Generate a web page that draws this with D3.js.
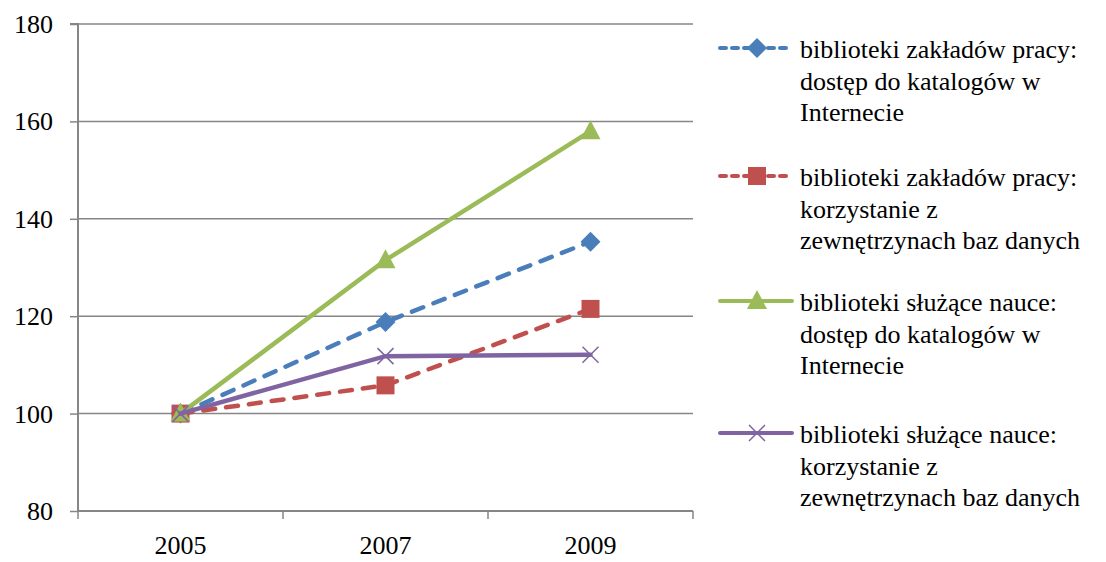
<!DOCTYPE html>
<html><head><meta charset="utf-8">
<script src="https://cdn.jsdelivr.net/npm/d3@7"></script>
<style>body{margin:0;background:#fff}svg{display:block}</style>
</head><body><svg id="c" width="1106" height="562"></svg>
<script>
const years = ["2005","2007","2009"];
const yTicks = [80,100,120,140,160,180];
const seriesNames = [
  ["biblioteki zakładów pracy:","dostęp do katalogów w","Internecie"],
  ["biblioteki zakładów pracy:","korzystanie z","zewnętrzynach baz danych"],
  ["biblioteki służące nauce:","dostęp do katalogów w","Internecie"],
  ["biblioteki służące nauce:","korzystanie z","zewnętrzynach baz danych"]
];
const blueVals = [100,118.8,135.3];
const redVals = [100,105.8,121.5];
const greenVals = [100,131.5,158.0];
const purpleVals = [100,111.8,112.1];
const colors = ["#4A7EBB","#C0504D","#9BBB59","#8064A2"];
const dashed = [true,true,false,false];
const markers = ["diamond","square","triangle","x"];
const allVals = [blueVals,redVals,greenVals,purpleVals];

const svg = d3.select("#c");
const L=78,R=693,T=24,B=511;
const x = d3.scaleBand().domain(years).range([L,R]);
const y = d3.scaleLinear().domain([80,180]).range([B,T]);
const grid="#868686";
const FF="Liberation Serif";
const FS=26;

svg.append("g").selectAll("line").data(yTicks.filter(d=>d>80)).join("line")
  .attr("x1",L).attr("x2",R).attr("y1",d=>y(d)).attr("y2",d=>y(d))
  .attr("stroke",grid).attr("stroke-width",1.5);

const ya = svg.append("g").attr("transform",`translate(${L},0)`)
  .call(d3.axisLeft(y).tickValues(yTicks).tickSize(8).tickFormat(""));
ya.select(".domain").attr("stroke",grid).attr("stroke-width",2).attr("d",`M-8,${T}H0V${B}`);
ya.selectAll(".tick line").attr("stroke",grid).attr("stroke-width",1.5);
svg.selectAll(".ylab").data(yTicks).join("text").attr("class","ylab")
  .attr("x",L-25).attr("y",d=>y(d)+9).attr("text-anchor","end")
  .attr("font-family",FF).attr("font-size",FS).text(d=>d);

const xa = svg.append("g").attr("transform",`translate(0,${B})`)
  .call(d3.axisBottom(x).tickSize(0).tickFormat(""));
xa.select(".domain").attr("stroke",grid).attr("stroke-width",2).attr("d",`M${L},0H${R}`);
const bounds = years.map(d=>x(d)).concat([R]);
xa.append("g").selectAll("line").data(bounds).join("line")
  .attr("x1",d=>d).attr("x2",d=>d).attr("y1",0).attr("y2",8)
  .attr("stroke",grid).attr("stroke-width",1.5);
svg.selectAll(".xlab").data(years).join("text").attr("class","xlab")
  .attr("x",d=>x(d)+x.bandwidth()/2).attr("y",B+43).attr("text-anchor","middle")
  .attr("font-family",FF).attr("font-size",FS).text(d=>d);

function drawMarker(g,type,cx,cy,col){
  if(type==="diamond"){
    g.append("path").attr("d",`M${cx},${cy-10}L${cx+10},${cy}L${cx},${cy+10}L${cx-10},${cy}Z`).attr("fill",col);
  } else if(type==="square"){
    g.append("rect").attr("x",cx-9).attr("y",cy-9).attr("width",18).attr("height",18).attr("fill",col);
  } else if(type==="triangle"){
    g.append("path").attr("d",`M${cx},${cy-11}L${cx+10},${cy+8}L${cx-10},${cy+8}Z`).attr("fill",col);
  } else {
    g.append("path").attr("d",`M${cx-8},${cy-8}L${cx+8},${cy+8}M${cx-8},${cy+8}L${cx+8},${cy-8}`).attr("stroke",col).attr("stroke-width",1.5);
  }
}

const line = d3.line().x((d,i)=>x(years[i])+x.bandwidth()/2).y(d=>y(d));
allVals.forEach((vals,k)=>{
  const g = svg.append("g");
  g.append("path").attr("d",line(vals)).attr("fill","none").attr("stroke",colors[k])
    .attr("stroke-width",4.5).attr("stroke-linecap","round")
    .attr("stroke-dasharray",dashed[k]?"12,11":null);
  vals.forEach((v,i)=>drawMarker(g,markers[k],x(years[i])+x.bandwidth()/2,y(v),colors[k]));
});

const legY = [48,176,301,433];
seriesNames.forEach((lines,k)=>{
  const g = svg.append("g");
  const cy = legY[k];
  g.append("line").attr("x1",720).attr("x2",792).attr("y1",cy).attr("y2",cy)
    .attr("stroke",colors[k]).attr("stroke-width",4).attr("stroke-linecap","round")
    .attr("stroke-dasharray",dashed[k]?"6,6":null);
  drawMarker(g,markers[k],757,cy,colors[k]);
  lines.forEach((t,j)=>{
    g.append("text").attr("x",800).attr("y",cy+10+j*31.5)
      .attr("font-family",FF).attr("font-size",FS).text(t);
  });
});
</script></body></html>
